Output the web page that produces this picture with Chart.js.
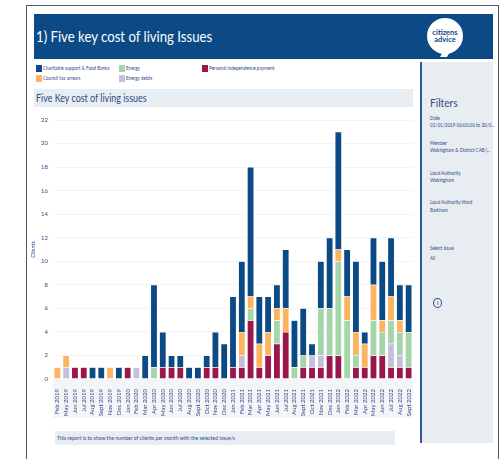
<!DOCTYPE html>
<html>
<head>
<meta charset="utf-8">
<script src="https://cdn.jsdelivr.net/npm/chart.js@4"></script>
<style>
  html, body { margin: 0; padding: 0; background: #fff; }
  body { width: 501px; height: 459px; position: relative; overflow: hidden; font-family: Lato, sans-serif; color: #2f4a85; filter: blur(0.35px); }
  div { position: absolute; box-sizing: border-box; }
  .narrow { transform: scaleX(0.85); transform-origin: left center; }
  #frame { left: 26px; top: 5px; width: 473px; height: 470px; border: 1.5px solid #5a5a5a; }
  #header { left: 34px; top: 14px; width: 459px; height: 45px; background: #0c4a86; }
  #title { left: 36px; top: 27px; font-size: 15.5px; color: #fff; white-space: nowrap; }
  #logo { left: 427px; top: 18px; width: 36px; height: 36px; border-radius: 50%; background: #fff; color: #0c4a86; font-size: 7.5px; font-weight: 700; line-height: 7px; text-align: center; padding-top: 11px; }
  #logotail { left: 442px; top: 50px; width: 7px; height: 7px; background: #fff; transform: skewX(-30deg); }
  #subhead { left: 34px; top: 89px; width: 379px; height: 18px; background: #e8edf2; }
  #subtext { left: 36px; top: 89px; font-size: 10.5px; line-height: 18px; white-space: nowrap; }
  #barband { left: 53px; top: 380px; width: 360px; height: 38px; background: #f3f5f8; }
  #note { left: 55px; top: 431px; width: 340px; height: 14px; background: #e8edf2; }
  #notetext { left: 57px; top: 431px; font-size: 6px; line-height: 14px; white-space: nowrap; }
  #side { left: 420px; top: 62px; width: 73px; height: 381px; background: #e8edf2; border-left: 2px solid #2c5a9c; }
  .lg { font-size: 5.4px; line-height: 7px; white-space: nowrap; color: #2f4a85; }
  .sw { width: 6px; height: 7px; }
  .f { left: 430px; font-size: 5.4px; line-height: 7px; white-space: nowrap; }
  #filters { left: 430px; top: 95px; font-size: 12px; white-space: nowrap; }
  #info { left: 433px; top: 298px; width: 9px; height: 10px; border: 0.8px solid #2f4a85; border-radius: 50%; font-size: 6.5px; line-height: 8px; text-align: center; }
  #chartbox { left: 30px; top: 105px; width: 390px; height: 320px; }
</style>
</head>
<body>
<div id="frame"></div>
<div id="header"></div>
<div id="title" class="narrow">1) Five key cost of living Issues</div>
<div id="logotail"></div>
<div id="logo">citizens<br>advice</div>
<div id="subhead"></div>
<div id="subtext" class="narrow">Five Key cost of living issues</div>
<div id="side"></div>
<div id="filters" class="narrow">Filters</div>
<div id="info">i</div>
<div id="barband"></div>
<div id="chartbox"><canvas id="costChart" width="390" height="320"></canvas></div>
<div id="note"></div>
<div id="notetext" class="narrow">This report is to show the number of clients per month with the selected issue/s</div>
<script>
const months = ['Feb 2019','May 2019','Jun 2019','Jul 2019','Aug 2019','Sept 2019','Nov 2019','Dec 2019',
  'Jan 2020','Feb 2020','Mar 2020','Apr 2020','May 2020','Jun 2020','Jul 2020','Aug 2020','Sept 2020','Oct 2020','Nov 2020','Dec 2020',
  'Jan 2021','Feb 2021','Mar 2021','Apr 2021','May 2021','Jun 2021','Jul 2021','Aug 2021','Sept 2021','Oct 2021','Nov 2021','Dec 2021',
  'Jan 2022','Feb 2022','Mar 2022','Apr 2022','May 2022','Jun 2022','Jul 2022','Aug 2022','Sept 2022'];

// stacked bottom to top: pip, debts, energy, council tax, charitable
const pip        = [0,0,1,1,0,0,0,0,1,0,0,0,1,1,1,0,0,1,1,0,1,1,5,1,2,3,4,0,1,1,1,2,2,0,1,1,2,2,1,1,1];
const energyDebt = [0,1,0,0,0,0,0,0,0,1,0,0,0,0,0,0,0,0,0,0,0,1,0,0,0,0,0,0,0,1,1,0,0,0,0,0,0,0,2,1,0];
const energy     = [0,0,0,0,0,0,0,0,0,0,0,1,0,0,0,0,0,0,0,0,0,0,1,0,0,2,0,1,1,0,4,4,8,5,1,0,3,2,2,2,3];
const councilTax = [1,1,0,0,0,0,1,0,0,0,0,0,0,0,0,0,0,0,0,0,0,2,1,2,2,1,2,0,0,0,0,0,1,2,2,2,3,1,2,1,0];
const charitable = [0,0,0,0,1,1,0,1,0,0,2,7,3,1,1,1,1,1,3,3,6,6,11,4,3,2,5,4,4,1,4,6,10,4,6,1,4,5,5,3,4];
const yTicks = [0,2,4,6,8,10,12,14,16,18,20,22];

const legendItems = [
  ['Charitable support & Food Banks', '#0c4a86', 36, 68],
  ['Council tax arrears', '#fbb45f', 36, 78],
  ['Energy', '#a5d5aa', 119, 68],
  ['Energy debts', '#c5bedd', 119, 78],
  ['Personal independence payment', '#99174d', 202, 68]
];
legendItems.forEach(function (it) {
  const sw = document.createElement('div');
  sw.className = 'sw';
  sw.style.cssText = 'left:' + it[2] + 'px;top:' + (it[3] - 3.5) + 'px;background:' + it[1];
  document.body.appendChild(sw);
  const t = document.createElement('div');
  t.className = 'lg narrow';
  t.style.cssText = 'left:' + (it[2] + 7) + 'px;top:' + (it[3] - 3.5) + 'px';
  t.textContent = it[0];
  document.body.appendChild(t);
});

const filterRows = [
  ['Date', 115], ['01/01/2019 00:00:00 to 30/0...', 122],
  ['Member', 140], ['Wokingham & District CAB (...', 147],
  ['Local Authority', 170], ['Wokingham', 177],
  ['Local Authority Ward', 199], ['Barkham', 207],
  ['Select Issue', 245], ['All', 255]
];
filterRows.forEach(function (r) {
  const f = document.createElement('div');
  f.className = 'f narrow';
  f.style.top = r[1] + 'px';
  f.textContent = r[0];
  document.body.appendChild(f);
});

function bar(label, data, color) {
  return {
    label: label,
    data: data,
    backgroundColor: color,
    borderColor: 'rgba(255,255,255,0.6)',
    borderWidth: 0.5,
    categoryPercentage: 1,
    barPercentage: 0.78,
    stack: 's'
  };
}

new Chart(document.getElementById('costChart').getContext('2d'), {
  type: 'bar',
  data: {
    labels: months,
    datasets: [
      bar('Personal independence payment', pip, '#99174d'),
      bar('Energy debts', energyDebt, '#c5bedd'),
      bar('Energy', energy, '#a5d5aa'),
      bar('Council tax arrears', councilTax, '#fbb45f'),
      bar('Charitable support & Food Banks', charitable, '#0c4a86')
    ]
  },
  options: {
    responsive: false,
    animation: false,
    layout: { padding: { top: 15, right: 7, bottom: 0, left: 0 } },
    plugins: { legend: { display: false }, tooltip: { enabled: false } },
    scales: {
      x: {
        stacked: true,
        grid: { display: false },
        border: { display: false },
        afterFit: function (s) { s.height = 46; },
        ticks: {
          autoSkip: false,
          maxRotation: 90,
          minRotation: 90,
          padding: 2,
          color: '#2f4a85',
          font: { family: 'Lato', size: 6 }
        }
      },
      y: {
        stacked: true,
        min: 0,
        max: 22,
        afterBuildTicks: function (s) { s.ticks = yTicks.map(function (v) { return { value: v }; }); },
        afterFit: function (s) { s.width = 23; },
        grid: { color: '#f4f4f4', lineWidth: 1, drawTicks: false },
        border: { display: false },
        title: { display: true, text: 'Clients', color: '#2f4a85', font: { family: 'Lato', size: 5.5 }, padding: 0 },
        ticks: { padding: 5, color: '#2f4a85', font: { family: 'Lato', size: 6 } }
      }
    }
  }
});
</script>
</body>
</html>
